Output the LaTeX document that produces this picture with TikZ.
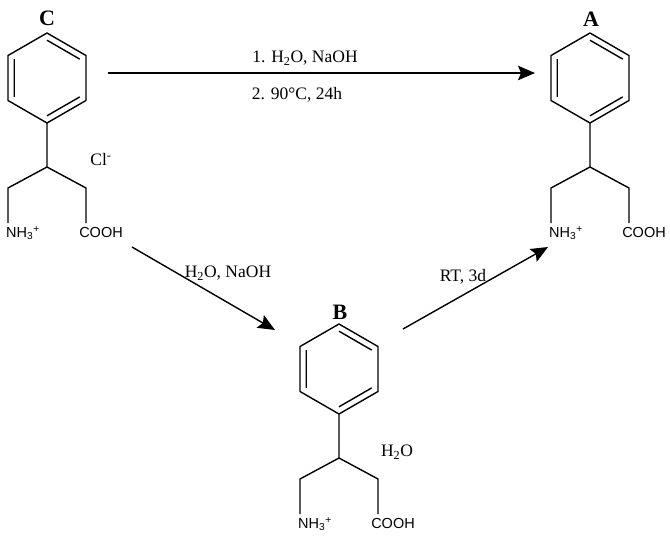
\documentclass[tikz,border=0pt]{standalone}
\usepackage{fontspec}
\setmainfont{Liberation Serif}
\setsansfont{Liberation Sans}
\usepackage{tikz}
\usetikzlibrary{arrows.meta}

\begin{document}
\begin{tikzpicture}[x=1pt,y=-1pt,
  bond/.style={line width=1.4pt,line join=round},
  fleche/.style={line width=1.4pt,-{Stealth[length=17pt,width=14.5pt,inset=3pt]}},
  groupe/.style={font=\sffamily\fontsize{14.5}{16}\selectfont,inner sep=0pt},
  cond/.style={font=\fontsize{17.5}{20}\selectfont,inner sep=0pt},
  lettre/.style={font=\bfseries\fontsize{22}{26}\selectfont,inner sep=0pt},
  molecule/.pic={
    \draw[bond] (-90:45) -- (-30:45) -- (30:45) -- (90:45) -- (150:45) -- (210:45) -- cycle;
    \draw[bond] (-90:37.8) -- (-30:37.8) (30:37.8) -- (90:37.8) (150:37.8) -- (210:37.8);
    \draw[bond] (90:45) -- (0,89) -- (-39,110) -- (-39,145);
    \draw[bond] (0,89) -- (39,110) -- (39,145);
    \node[groupe] (-nh) at (-24,155) {NH\textsubscript{3}\textsuperscript{+}};
    \node[groupe] (-cooh) at (54,155) {COOH};
  }]
\useasboundingbox (0,0) rectangle (670,536);

% Compose C
\pic (molC) at (47,78) {molecule};
\node[lettre] (labC) at (47,18) {C};
\node[cond] (ionC) at (101,160) {Cl\textsuperscript{-}};

% Compose A
\pic (molA) at (590,78) {molecule};
\node[lettre] (labA) at (591,19) {A};

% Compose B
\pic (molB) at (339,369) {molecule};
\node[lettre] (labB) at (340,312) {B};
\node[cond] (eauB) at (397,452) {H\textsubscript{2}O};

% Fleches
\coordinate (depC1) at (108,73);
\coordinate (finA1) at (535,73);
\coordinate (depC2) at (132,247);
\coordinate (finB) at (275,330);
\coordinate (depB) at (403,329);
\coordinate (finA2) at (548,247);
\draw[fleche] (depC1) -- (finA1);
\draw[fleche] (depC2) -- (finB);
\draw[fleche] (depB) -- (finA2);

% Conditions
\node[cond] (cond1) at (305,58) {1. H\textsubscript{2}O, NaOH};
\node[cond] (cond2) at (297,95) {2. 90°C, 24h};
\node[cond] (cond3) at (228,273) {H\textsubscript{2}O, NaOH};
\node[cond] (cond4) at (463,277) {RT, 3d};

\end{tikzpicture}
\end{document}
